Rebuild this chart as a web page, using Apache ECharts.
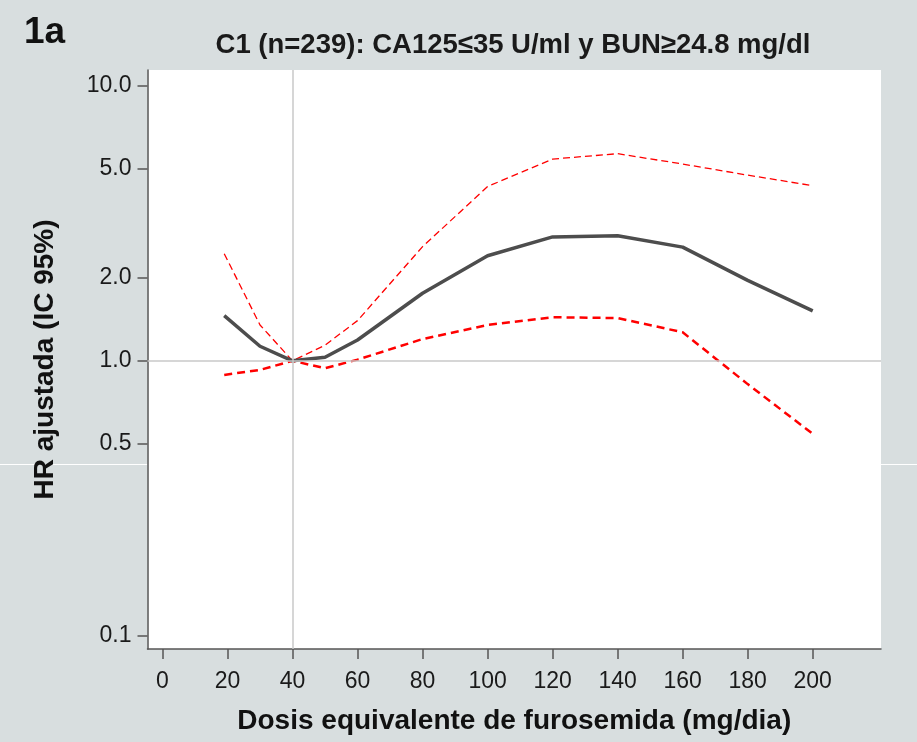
<!DOCTYPE html>
<html>
<head>
<meta charset="utf-8">
<script src="https://cdn.jsdelivr.net/npm/echarts@6/dist/echarts.min.js"></script>
<style>
html,body{margin:0;padding:0;background:#d8dedf;}
#c{width:917px;height:742px;}
</style>
</head>
<body>
<div id="c"></div>
<script>
// Data
const doses = [19, 30, 40, 50, 60, 80, 100, 120, 140, 160, 180, 200];
const hrAdjusted = [1.46, 1.13, 1.0, 1.03, 1.19, 1.76, 2.41, 2.82, 2.85, 2.59, 1.96, 1.52];
const ciUpper = [2.45, 1.35, 1.0, 1.14, 1.40, 2.60, 4.30, 5.41, 5.66, 5.19, 4.73, 4.33];
const ciLower = [0.889, 0.927, 1.0, 0.94, 1.01, 1.20, 1.35, 1.44, 1.43, 1.27, 0.823, 0.543];
const xTicks = [0, 20, 40, 60, 80, 100, 120, 140, 160, 180, 200];
const yTicks = [0.1, 0.5, 1.0, 2.0, 5.0, 10.0];

const L = Math.log10;
const pts = arr => doses.map((d, i) => [d, L(arr[i])]);
const yTickLog = yTicks.map(L);

const chart = echarts.init(document.getElementById('c'), null, {renderer: 'canvas'});
const FONT = 'Liberation Sans, Arial, sans-serif';

chart.setOption({
  backgroundColor: '#d8dedf',
  animation: false,
  title: [
    {text: 'C1 (n=239): CA125≤35 U/ml y BUN≥24.8 mg/dl', left: 508, top: 26, textAlign: 'center',
     textStyle: {fontFamily: FONT, fontWeight: 'bold', fontSize: 27.5, color: '#1a1a1a'}},
    {text: '1a', left: 19, top: 9,
     textStyle: {fontFamily: FONT, fontWeight: 'bold', fontSize: 37, color: '#111'}}
  ],
  graphic: [
    {type: 'line', z: -10, shape: {x1: 0, y1: 464.5, x2: 917, y2: 464.5}, style: {stroke: '#ffffff', lineWidth: 1}}
  ],
  grid: {left: 147.5, right: 36, top: 70, bottom: 93, show: true, backgroundColor: '#ffffff', borderWidth: 0},
  xAxis: {
    type: 'value', min: -4.6, max: 221,
    name: 'Dosis equivalente de furosemida (mg/dia)',
    nameLocation: 'middle', nameGap: 58,
    nameTextStyle: {fontFamily: FONT, fontWeight: 'bold', fontSize: 28, color: '#111'},
    axisLine: {show: true, onZero: false, lineStyle: {color: '#555', width: 1.5}},
    axisTick: {show: true, length: 10, customValues: xTicks, lineStyle: {color: '#555', width: 1.5}},
    axisLabel: {customValues: xTicks, margin: 21, fontFamily: FONT, fontSize: 23, color: '#1a1a1a'},
    splitLine: {show: false}
  },
  yAxis: {
    type: 'value', min: L(0.0897), max: L(11.4),
    name: 'HR ajustada (IC 95%)',
    nameLocation: 'middle', nameGap: 88, nameRotate: 90,
    nameTextStyle: {fontFamily: FONT, fontWeight: 'bold', fontSize: 28, color: '#111'},
    axisLine: {show: true, onZero: false, lineStyle: {color: '#555', width: 1.5}},
    axisTick: {show: true, length: 10, customValues: yTickLog, lineStyle: {color: '#555', width: 1.5}},
    axisLabel: {customValues: yTickLog, margin: 16, fontFamily: FONT, fontSize: 23, color: '#1a1a1a',
      formatter: v => Math.pow(10, v).toFixed(1)},
    splitLine: {show: false}
  },
  series: [
    {type: 'line', data: [], z: 1, silent: true,
     markLine: {silent: true, symbol: 'none', label: {show: false},
       lineStyle: {color: '#c8c8c8', type: 'solid', width: 1.5},
       data: [{xAxis: 40}, {yAxis: 0}]}},
    {name: 'HR', type: 'line', data: pts(hrAdjusted), showSymbol: false, z: 4,
     lineStyle: {color: '#4d4d4d', width: 3.5}},
    {name: 'Upper', type: 'line', data: pts(ciUpper), showSymbol: false, z: 3,
     lineStyle: {color: '#ff0000', width: 1.3, type: [7, 4]}},
    {name: 'Lower', type: 'line', data: pts(ciLower), showSymbol: false, z: 3,
     lineStyle: {color: '#ff0000', width: 2.5, type: [8, 5]}}
  ]
});
</script>
</body>
</html>
